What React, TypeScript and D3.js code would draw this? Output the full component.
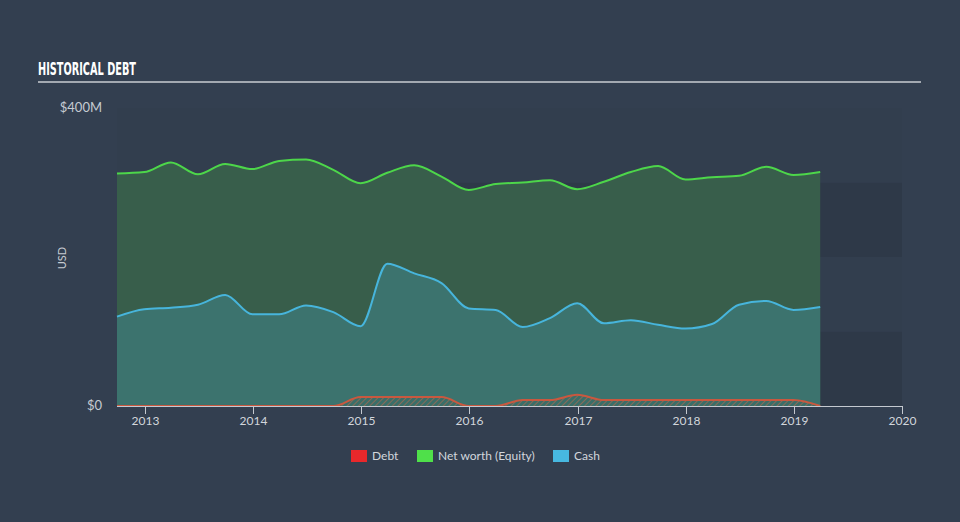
import React from "react";
import * as d3 from "d3";

const quarters: string[] = [
  "2012-09-30", "2012-12-31", "2013-03-31", "2013-06-30", "2013-09-30", "2013-12-31",
  "2014-03-31", "2014-06-30", "2014-09-30", "2014-12-31", "2015-03-31", "2015-06-30",
  "2015-09-30", "2015-12-31", "2016-03-31", "2016-06-30", "2016-09-30", "2016-12-31",
  "2017-03-31", "2017-06-30", "2017-09-30", "2017-12-31", "2018-03-31", "2018-06-30",
  "2018-09-30", "2018-12-31", "2019-03-31",
];
const equity: number[] = [312, 314, 327, 311, 325, 318, 329, 331, 317, 299, 313, 323, 308, 290, 298, 300, 303, 291, 301, 314, 322, 304, 307, 309, 321, 310, 314];
const cash: number[] = [120, 130, 132, 136, 149, 123, 123, 135, 126, 107, 191, 178, 165, 131, 129, 106, 118, 138, 111, 115, 109, 104, 110, 136, 141, 129, 133];
const debt: number[] = [0, 0, 0, 0, 0, 0, 0, 0, 0, 12, 12, 12, 12, 0, 0, 8, 8, 15, 8, 8, 8, 8, 8, 8, 8, 8, 0];
const yearTicks: number[] = [2013, 2014, 2015, 2016, 2017, 2018, 2019, 2020];
const yLabels: { v: number; t: string }[] = [
  { v: 400, t: "$400M" },
  { v: 0, t: "$0" },
];
const legendItems: { label: string; color: string }[] = [
  { label: "Debt", color: "#e8282b" },
  { label: "Net worth (Equity)", color: "#4fe04a" },
  { label: "Cash", color: "#47b8e0" },
];

const parse = d3.timeParse("%Y-%m-%d");

export default function App() {
  const W = 960, H = 522;
  const x = d3.scaleTime()
    .domain([parse("2012-09-30") as Date, new Date(2020, 0, 1)])
    .range([117, 902]);
  const y = d3.scaleLinear().domain([0, 400]).range([406, 108]);
  const dates = quarters.map((q) => parse(q) as Date);

  const mk = (vals: number[]) => vals.map((v, i) => ({ d: dates[i], v }));
  const area = d3.area<{ d: Date; v: number }>()
    .x((p) => x(p.d)).y0(y(0)).y1((p) => y(p.v)).curve(d3.curveMonotoneX);
  const line = d3.line<{ d: Date; v: number }>()
    .x((p) => x(p.d)).y((p) => y(p.v)).curve(d3.curveMonotoneX);

  const eq = mk(equity), ca = mk(cash), de = mk(debt);
  const bands = [0, 100, 200, 300];
  const font = "Lato, 'Open Sans', sans-serif";

  // legend layout
  const legendX = [351, 417, 553];

  return (
    <svg width={W} height={H} style={{ position: "absolute", left: 0, top: 0 }}>
      <defs>
        <pattern id="hatch" width="4" height="4" patternUnits="userSpaceOnUse" patternTransform="rotate(45)">
          <rect width="4" height="4" fill="#3a6e68" />
          <line x1="0" y1="0" x2="0" y2="4" stroke="#9a6a55" strokeWidth="1.6" />
        </pattern>
      </defs>
      <rect width={W} height={H} fill="#333f50" />
      {/* title */}
      <text x={38} y={75} fill="#ffffff" fontFamily="'Liberation Sans Narrow', 'DejaVu Sans Condensed', sans-serif"
        fontWeight="bold" fontSize={18} textLength={98} lengthAdjust="spacingAndGlyphs">HISTORICAL DEBT</text>
      <rect x={38} y={81} width={883} height={2} fill="#a3a9b1" />

      {/* background bands */}
      {bands.map((b, i) => (
        <rect key={b} x={117} width={785} y={y(b + 100)} height={y(b) - y(b + 100)}
          fill={i % 2 === 0 ? "#2e3948" : "#323e4e"} />
      ))}

      {/* areas */}
      <path d={area(eq) || ""} fill="#385e4b" />
      <path d={area(ca) || ""} fill="#3c736e" />
      <path d={area(de) || ""} fill="url(#hatch)" />
      <path d={line(eq) || ""} fill="none" stroke="#4dd64a" strokeWidth={2} />
      <path d={line(ca) || ""} fill="none" stroke="#47b5dc" strokeWidth={2} />
      <path d={line(de) || ""} fill="none" stroke="#c9583f" strokeWidth={2} />

      {/* y labels */}
      {yLabels.map((l) => (
        <text key={l.t} x={102} y={y(l.v) + 4} textAnchor="end" fill="#c6cbd2" fontFamily={font} fontSize={13}>{l.t}</text>
      ))}
      <text transform={`translate(66,258) rotate(-90)`} textAnchor="middle" fill="#c6cbd2" fontFamily={font} fontSize={11}>USD</text>

      {/* x axis */}
      <line x1={117} x2={902} y1={406.5} y2={406.5} stroke="#c4c9d0" strokeWidth={1} />
      {yearTicks.map((yr) => {
        const xx = Math.round(x(new Date(yr, 0, 1))) + 0.5;
        return (
          <g key={yr}>
            <line x1={xx} x2={xx} y1={406} y2={414} stroke="#c4c9d0" strokeWidth={1} />
            <text x={xx} y={425} textAnchor="middle" fill="#d2d6dc" fontFamily={font} fontSize={12}>{yr}</text>
          </g>
        );
      })}

      {/* legend */}
      {legendItems.map((it, i) => (
        <g key={it.label}>
          <rect x={legendX[i]} y={450} width={16} height={12} fill={it.color} />
          <text x={legendX[i] + 21} y={460} fill="#d2d6dc" fontFamily={font} fontSize={12}>{it.label}</text>
        </g>
      ))}
    </svg>
  );
}
